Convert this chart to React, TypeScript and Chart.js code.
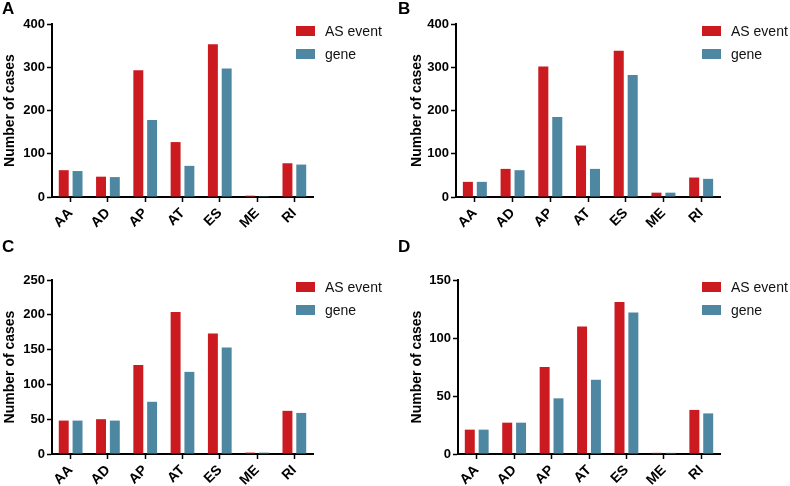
import React, { useEffect, useRef } from 'react';
import { Chart, registerables } from 'chart.js';
Chart.register(...registerables);

const categories = ['AA', 'AD', 'AP', 'AT', 'ES', 'ME', 'RI'];
const seriesNames = ['AS event', 'gene'];
const panelLetters = ['A', 'B', 'C', 'D'];

const eventA = [62, 47, 293, 127, 353, 3, 78];
const geneA = [60, 46, 178, 72, 297, 2, 75];
const eventB = [35, 65, 302, 119, 338, 10, 45];
const geneB = [35, 62, 185, 65, 282, 10, 42];
const eventC = [48, 50, 128, 204, 173, 2, 62];
const geneC = [48, 48, 75, 118, 153, 2, 59];
const eventD = [21, 27, 75, 110, 131, 1, 38];
const geneD = [21, 27, 48, 64, 122, 1, 35];

const yMaxes = [400, 400, 250, 150];
const ySteps = [100, 100, 50, 50];

const RED = '#CB1A20';
const BLUE = '#4E87A2';
const FONT = "'Liberation Sans', Arial, Helvetica, sans-serif";

type Layout = {
  x: number; y: number; w: number; h: number;
  padLeft: number; plotLeft: number; plotRight: number; plotTop: number; plotBottom: number;
  legendX: number; legendY: number;
};

const layouts: Layout[] = [
  { x: 0, y: 0, w: 395, h: 243, padLeft: 0, plotLeft: 52, plotRight: 313, plotTop: 24, plotBottom: 197, legendX: 296, legendY: 26 },
  { x: 395, y: 0, w: 395, h: 243, padLeft: 12, plotLeft: 456, plotRight: 720, plotTop: 24, plotBottom: 197, legendX: 702, legendY: 26 },
  { x: 0, y: 243, w: 395, h: 243, padLeft: 0, plotLeft: 52, plotRight: 313, plotTop: 280, plotBottom: 454, legendX: 296, legendY: 282 },
  { x: 395, y: 243, w: 395, h: 243, padLeft: 12, plotLeft: 458, plotRight: 720, plotTop: 280, plotBottom: 454, legendX: 702, legendY: 282 },
];

const panelData = [
  [eventA, geneA],
  [eventB, geneB],
  [eventC, geneC],
  [eventD, geneD],
];

function Panel({ idx }: { idx: number }) {
  const ref = useRef<HTMLCanvasElement | null>(null);
  const L = layouts[idx];
  useEffect(() => {
    if (!ref.current) return;
    const yWidth = L.plotLeft - L.x - L.padLeft;
    const xHeight = L.y + L.h - L.plotBottom;
    const chart = new Chart(ref.current, {
      type: 'bar',
      data: {
        labels: categories,
        datasets: [
          { label: seriesNames[0], data: panelData[idx][0], backgroundColor: RED, categoryPercentage: 0.74, barPercentage: 0.72 },
          { label: seriesNames[1], data: panelData[idx][1], backgroundColor: BLUE, categoryPercentage: 0.74, barPercentage: 0.72 },
        ],
      },
      options: {
        animation: false,
        responsive: false,
        maintainAspectRatio: false,
        devicePixelRatio: 1,
        layout: {
          padding: { left: L.padLeft, top: L.plotTop - L.y, right: L.x + L.w - L.plotRight, bottom: 0 },
        },
        plugins: { legend: { display: false }, tooltip: { enabled: false }, title: { display: false } },
        scales: {
          x: {
            offset: true,
            border: { display: true, color: '#000', width: 2 },
            grid: { display: true, drawOnChartArea: false, drawTicks: true, tickLength: 5, tickColor: '#000', tickWidth: 1.5, offset: false },
            ticks: {
              color: '#000', font: { family: FONT, size: 14, weight: 'bold' },
              minRotation: 45, maxRotation: 45, autoSkip: false, padding: 3,
            },
            afterFit: (s: any) => { s.height = xHeight; },
          },
          y: {
            min: 0,
            max: yMaxes[idx],
            border: { display: true, color: '#000', width: 2 },
            grid: { display: true, drawOnChartArea: false, drawTicks: true, tickLength: 5, tickColor: '#000', tickWidth: 1.5 },
            ticks: { stepSize: ySteps[idx], color: '#000', font: { family: FONT, size: 13, weight: 'bold' }, padding: 2 },
            title: {
              display: true, text: 'Number of cases', color: '#000',
              font: { family: FONT, size: 14, weight: 'bold' }, padding: { top: 2, bottom: 0 },
            },
            afterFit: (s: any) => { s.width = yWidth; },
          },
        },
      },
    });
    return () => chart.destroy();
  }, [idx]);

  return (
    <div style={{ position: 'absolute', left: L.x, top: L.y, width: L.w, height: L.h }}>
      <canvas ref={ref} width={L.w} height={L.h} style={{ display: 'block', width: L.w, height: L.h }} />
      <div style={{ position: 'absolute', left: idx % 2 === 0 ? 2 : 3, top: idx < 2 ? -1 : -6, fontFamily: FONT, fontWeight: 'bold', fontSize: 17, color: '#000', lineHeight: '20px' }}>
        {panelLetters[idx]}
      </div>
      {[0, 1].map((k) => (
        <div key={k} style={{ position: 'absolute', left: L.legendX - L.x, top: L.legendY - L.y + k * 23, height: 10, display: 'flex', alignItems: 'center', whiteSpace: 'nowrap' }}>
          <div style={{ width: 19, height: 10, background: k === 0 ? RED : BLUE }} />
          <span style={{ marginLeft: 10, fontFamily: FONT, fontSize: 14, color: '#111', lineHeight: '10px' }}>{seriesNames[k]}</span>
        </div>
      ))}
    </div>
  );
}

export default function App() {
  return (
    <div style={{ position: 'absolute', left: 0, top: 0, width: 790, height: 486, background: '#fff', overflow: 'hidden' }}>
      {[0, 1, 2, 3].map((i) => <Panel key={i} idx={i} />)}
    </div>
  );
}
